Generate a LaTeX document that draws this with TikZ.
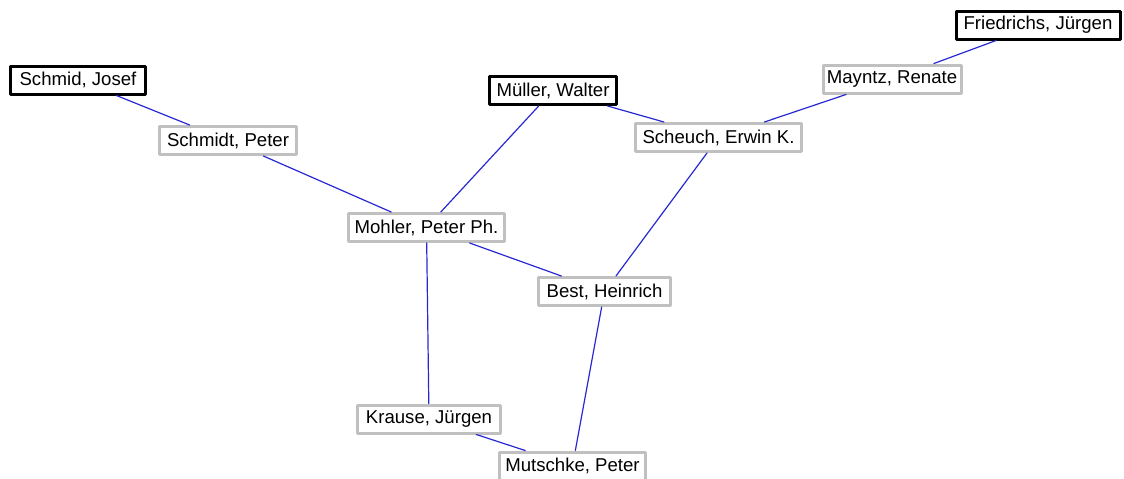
\documentclass[tikz,border=0pt]{standalone}
\usepackage{fontspec}
\setmainfont{Liberation Sans}
\definecolor{linkblue}{RGB}{40,40,210}
\definecolor{boxgray}{RGB}{192,192,192}
\begin{document}
\begin{tikzpicture}[
	x=1pt,
	y=-1pt,
	line join=round,
	line cap=round,
	person/.style={draw=boxgray, line width=3pt, fill=white,
		minimum height=28pt, inner xsep=2pt, inner ysep=0pt,
		font=\fontsize{18.6}{20}\selectfont},
	seed/.style={person, draw=black},
	link/.style={draw=linkblue, line width=1.2pt},
	]
\useasboundingbox (0,0) rectangle (1124,479);
\node[seed, minimum width=135pt] (josef) at (78,80) {Schmid, Josef};
\node[person, minimum width=137pt] (schmidt) at (228,140.5) {Schmidt, Peter};
\node[seed, minimum width=127pt] (mueller) at (553,90.5) {Müller, Walter};
\node[person, minimum width=166pt] (scheuch) at (718.5,137.5) {Scheuch, Erwin K.};
\node[person, minimum width=138pt] (mayntz) at (892,79) {Mayntz, Renate};
\node[seed, minimum width=164pt] (friedrichs) at (1038,25) {Friedrichs, Jürgen};
\node[person, minimum width=156pt] (mohler) at (426.5,227.5) {Mohler, Peter Ph.};
\node[person, minimum width=132pt] (best) at (604.5,291.5) {Best, Heinrich};
\node[person, minimum width=143pt] (krause) at (429,419) {Krause, Jürgen};
\node[person, minimum width=146pt] (mutschke) at (572.5,466) {Mutschke, Peter};
\foreach \a/\b in {josef/schmidt, schmidt/mohler, mueller/mohler,
	mueller/scheuch, mayntz/scheuch, friedrichs/mayntz, scheuch/best,
	mohler/best, mohler/krause, best/mutschke, krause/mutschke}
	\draw[link] (\a) -- (\b);
\end{tikzpicture}
\end{document}
